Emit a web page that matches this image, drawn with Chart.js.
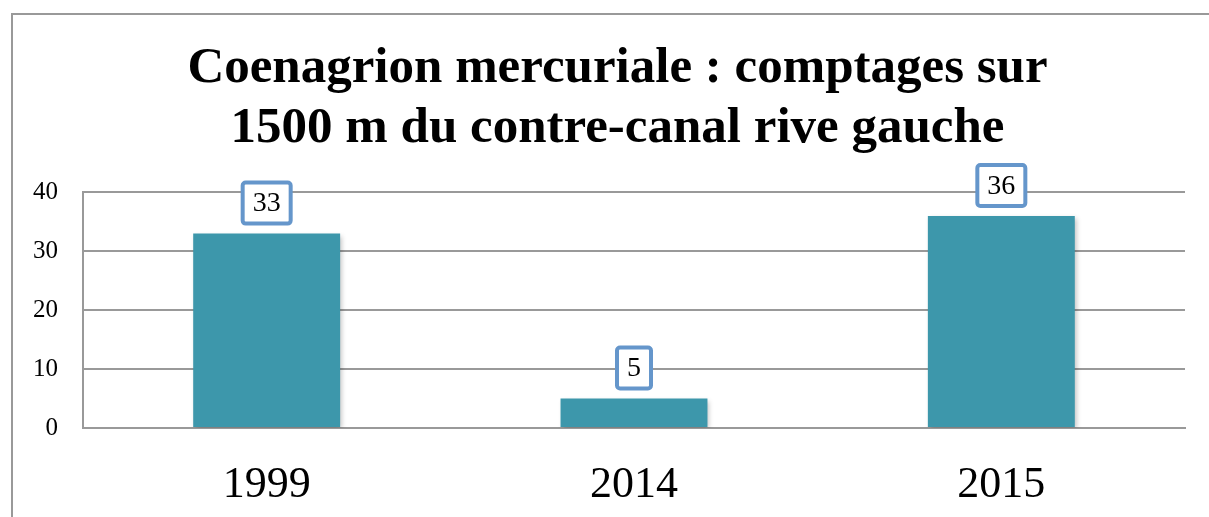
<!DOCTYPE html>
<html>
<head>
<meta charset="utf-8">
<script src="https://cdn.jsdelivr.net/npm/chart.js@4"></script>
<style>
  html, body { margin: 0; padding: 0; background: #fff; }
  #wrap { position: relative; width: 1209px; height: 517px; overflow: hidden; }
  #frame { position: absolute; left: 11px; top: 13px; width: 1300px; height: 600px;
           border-left: 2px solid #999; border-top: 2px solid #999; }
  canvas { position: absolute; left: 0; top: 0; }
</style>
</head>
<body>
<div id="wrap">
  <div id="frame"></div>
  <canvas id="chart" width="1209" height="517"></canvas>
</div>
<script>
const years = ['1999', '2014', '2015'];
const counts = [33, 5, 36];
const yTicks = [0, 10, 20, 30, 40];

// boxed value labels above each bar
const boxLabels = {
  id: 'boxLabels',
  afterDatasetsDraw(chart) {
    const ctx = chart.ctx;
    const meta = chart.getDatasetMeta(0);
    ctx.save();
    ctx.font = '28px "Liberation Serif"';
    ctx.textAlign = 'center';
    ctx.textBaseline = 'middle';
    meta.data.forEach((bar, i) => {
      const txt = String(counts[i]);
      const w = ctx.measureText(txt).width + 20;
      const h = 41;
      const x = bar.x - w / 2;
      const y = bar.y - 10 - h;
      ctx.beginPath();
      ctx.roundRect(x, y, w, h, 3);
      ctx.fillStyle = '#fff';
      ctx.fill();
      ctx.lineWidth = 4;
      ctx.strokeStyle = '#6596cb';
      ctx.stroke();
      ctx.fillStyle = '#000';
      ctx.fillText(txt, bar.x, y + h / 2 + 1);
    });
    ctx.restore();
  }
};

// soft shadow behind bars
const barShadow = {
  id: 'barShadow',
  beforeDatasetDraw(chart) {
    const ctx = chart.ctx;
    ctx.save();
    ctx.shadowColor = 'rgba(0,0,0,0.25)';
    ctx.shadowBlur = 5;
    ctx.shadowOffsetX = 2;
    ctx.shadowOffsetY = 2;
  },
  afterDatasetDraw(chart) {
    chart.ctx.restore();
  }
};

// the title sits a little right of the canvas centre
const titleShift = {
  id: 'titleShift',
  afterLayout(chart) {
    if (chart.titleBlock) chart.titleBlock.left += 50;
  }
};

new Chart(document.getElementById('chart').getContext('2d'), {
  type: 'bar',
  data: {
    labels: years,
    datasets: [{
      data: counts,
      backgroundColor: '#3d97ab',
      categoryPercentage: 1,
      barPercentage: 0.4
    }]
  },
  plugins: [barShadow, boxLabels, titleShift],
  options: {
    responsive: false,
    animation: false,
    layout: { padding: { left: 0, right: 24, top: 0, bottom: 0 } },
    plugins: {
      legend: { display: false },
      tooltip: { enabled: false },
      title: {
        display: true,
        text: ['Coenagrion mercuriale : comptages sur', '1500 m du contre-canal rive gauche'],
        color: '#000',
        font: { family: '"Liberation Serif"', size: 51, weight: 'bold', lineHeight: 1.18 },
        padding: { top: 39, bottom: 33 }
      }
    },
    scales: {
      x: {
        grid: { display: false, drawTicks: false },
        border: { display: true, color: '#999', width: 2 },
        ticks: { color: '#000', font: { family: '"Liberation Serif"', size: 44 }, padding: 31 },
        afterFit(scale) { scale.height = 89; }
      },
      y: {
        min: 0,
        max: 40,
        afterBuildTicks(scale) { scale.ticks = yTicks.map(v => ({ value: v })); },
        grid: { color: '#999', lineWidth: 2, drawTicks: false },
        border: { display: true, color: '#999', width: 2 },
        ticks: { color: '#000', font: { family: '"Liberation Serif"', size: 25 }, padding: 25 },
        afterFit(scale) { scale.width = 83; }
      }
    }
  }
});
</script>
</body>
</html>
